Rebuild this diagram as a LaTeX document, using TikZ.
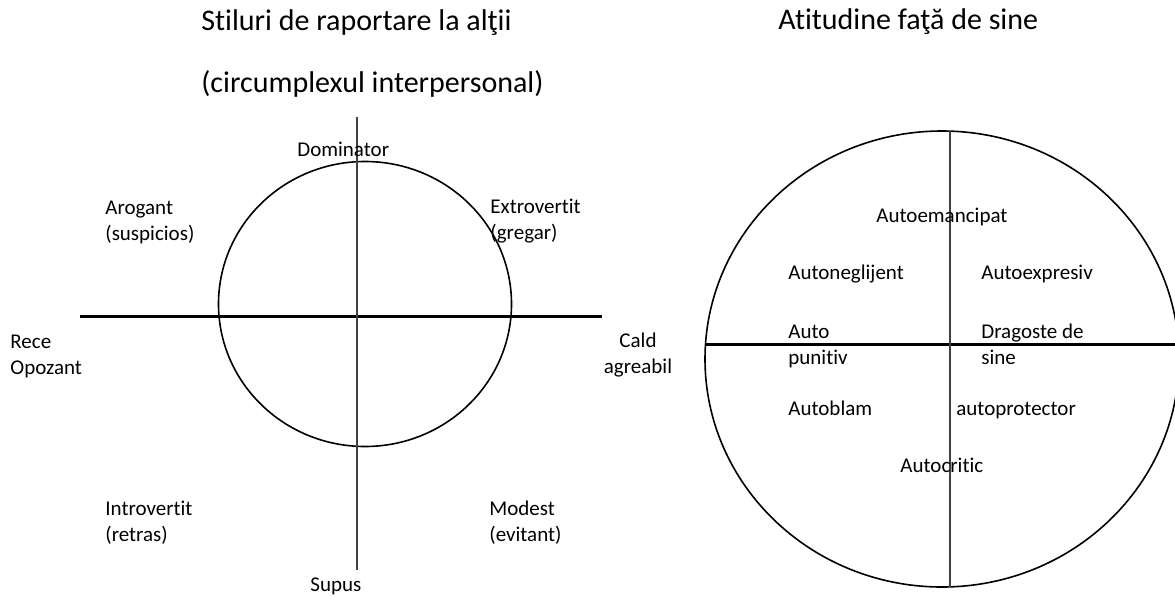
\documentclass[tikz,border=0pt]{standalone}
\usepackage{fontspec}
\setmainfont[Ligatures=NoCommon]{Carlito}
\usetikzlibrary{positioning}

\tikzset{
  lbl/.style={anchor=base west, align=left, inner sep=0pt,
    font=\fontsize{10.5}{13}\selectfont},
  ttl/.style={anchor=base west, inner sep=0pt, font=\fontsize{15}{18}\selectfont},
  axis/.style={line width=1.5pt},
  stem/.style={line width=1pt, black!75},
  ring/.style={line width=0.8pt}
}

\begin{document}
\begin{tikzpicture}[x=0.5pt, y=-0.5pt]

    \useasboundingbox (0,0) rectangle (1175,596);

    % titles
    \draw(201,30) node[ttl] (t1) {Stiluri de raportare la alţii};
    \draw(201,92) node[ttl] (t2) {(circumplexul interpersonal)};
    \draw(778,29) node[ttl] (t3) {Atitudine faţă de sine};

    % left circumplex (two-line labels sit on their last baseline)
    \coordinate (lw) at (80,316);
    \coordinate (le) at (602,316);
    \coordinate (ln) at (357,117);
    \coordinate (ls) at (357,570);
    \draw[ring] (365,304) ellipse [x radius=146.5, y radius=142.5];
    \draw[axis] (lw) -- (le);
    \draw[stem] (ln) -- (ls);

    \draw(297,156) node[lbl] (dom) {Dominator};
    \draw(105,240) node[lbl] (arog) {Arogant\\(suspicios)};
    \draw(490,239) node[lbl] (extr) {Extrovertit\\(gregar)};
    \draw(10,374) node[lbl] (rece) {Rece\\Opozant};
    \draw(638,373) node[lbl, anchor=base, align=center] (cald) {Cald\\agreabil};
    \draw(105,541) node[lbl] (intr) {Introvertit\\(retras)};
    \draw(489,541) node[lbl] (mod) {Modest\\(evitant)};
    \draw(310,591) node[lbl] (sup) {Supus};

    % right circle
    \coordinate (rw) at (705,344);
    \coordinate (re) at (1180,344);
    \coordinate (rn) at (950,131);
    \coordinate (rs) at (950,587);
    \draw[ring] (942,359) ellipse [x radius=237, y radius=228];
    \draw[axis] (rw) -- (re);
    \draw[stem] (rn) -- (rs);

    \draw(876,222) node[lbl] (eman) {Autoemancipat};
    \draw(788,279) node[lbl] (negl) {Autoneglijent};
    \draw(981,279) node[lbl] (expr) {Autoexpresiv};
    \draw(788,364) node[lbl] (pun) {Auto\\punitiv};
    \draw(981,364) node[lbl] (drag) {Dragoste de\\sine};
    \draw(788,415) node[lbl] (blam) {Autoblam};
    \draw(956,415) node[lbl] (prot) {autoprotector};
    \draw(900,472) node[lbl] (crit) {Autocritic};

\end{tikzpicture}
\end{document}
